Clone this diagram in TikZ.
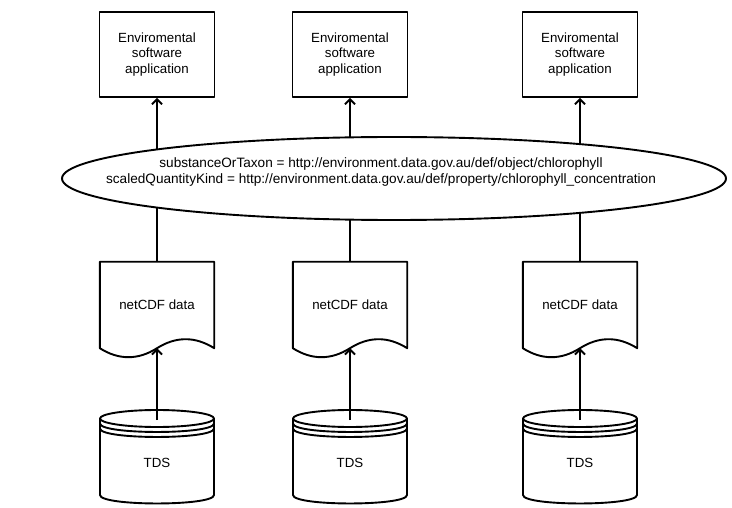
\documentclass[tikz,border=0pt]{standalone}
\usepackage{fontspec}
\setmainfont{Liberation Sans}
\usetikzlibrary{arrows.meta,shapes.geometric,calc,backgrounds}
\tikzset{
  line/.style={line width=1.9pt},
  arr/.style={line, -{Straight Barb[length=5pt,width=10pt]}},
  lbl/.style={font=\fontsize{13.3}{15.5}\selectfont, align=center},
  appbox/.style={lbl, draw, line width=1.9pt, minimum width=115, minimum height=85},
  docbox/.style={lbl, minimum width=114, minimum height=86},
}
\begin{document}
\begin{tikzpicture}[x=1pt,y=-1pt,line join=round]
\useasboundingbox (0,0) rectangle (732,508);
% vocabulary ellipse
\node[ellipse, draw, line, fill=white, minimum width=664, minimum height=83] (onto) at (394,178.5) {};
\node[lbl, font=\fontsize{13.6}{16}\selectfont] (vocab) at (381,172)
  {substanceOrTaxon = http://environment.data.gov.au/def/object/chlorophyll\\
   scaledQuantityKind = http://environment.data.gov.au/def/property/chlorophyll\_concentration};
\foreach \n/\x in {1/157, 2/350, 3/580}{
  \node[appbox] (app\n) at (\x,54.5) {Enviromental\\software\\application};
  % netCDF document
  \node[docbox] (doc\n) at (\x,305) {netCDF data};
  \draw[line] (doc\n.south west) -- (doc\n.north west) -- (doc\n.north east) -- (doc\n.south east)
     .. controls ($(doc\n.south east)+(-19,-12)$) and ($(doc\n.south)+(19,-12)$) .. (doc\n.south)
     .. controls ($(doc\n.south)+(-19,12)$) and ($(doc\n.south west)+(19,12)$) .. (doc\n.south west) -- cycle;
  % TDS store
  \draw[line, fill=white] (\x-57,418.5) -- (\x-57,495)
     .. controls (\x-57,506.3) and (\x+57,506.3) .. (\x+57,495) -- (\x+57,418.5);
  \draw[line] (\x,418.5) ellipse [x radius=57, y radius=8.5];
  \draw[line] (\x-57,423.5) .. controls (\x-57,434.8) and (\x+57,434.8) .. (\x+57,423.5);
  \draw[line] (\x-57,428.5) .. controls (\x-57,439.8) and (\x+57,439.8) .. (\x+57,428.5);
  \node[lbl] (tds\n) at (\x,463) {TDS};
  \coordinate (top\n) at (\x,420);
  % connectors
  \draw[arr] (top\n) -- (doc\n.south);
  \begin{pgfonlayer}{background}
    \draw[line] (doc\n.north) -- (doc\n.north |- onto.center);
    \draw[arr] (onto.center -| app\n.south) -- (app\n.south);
  \end{pgfonlayer}
}
\end{tikzpicture}
\end{document}
